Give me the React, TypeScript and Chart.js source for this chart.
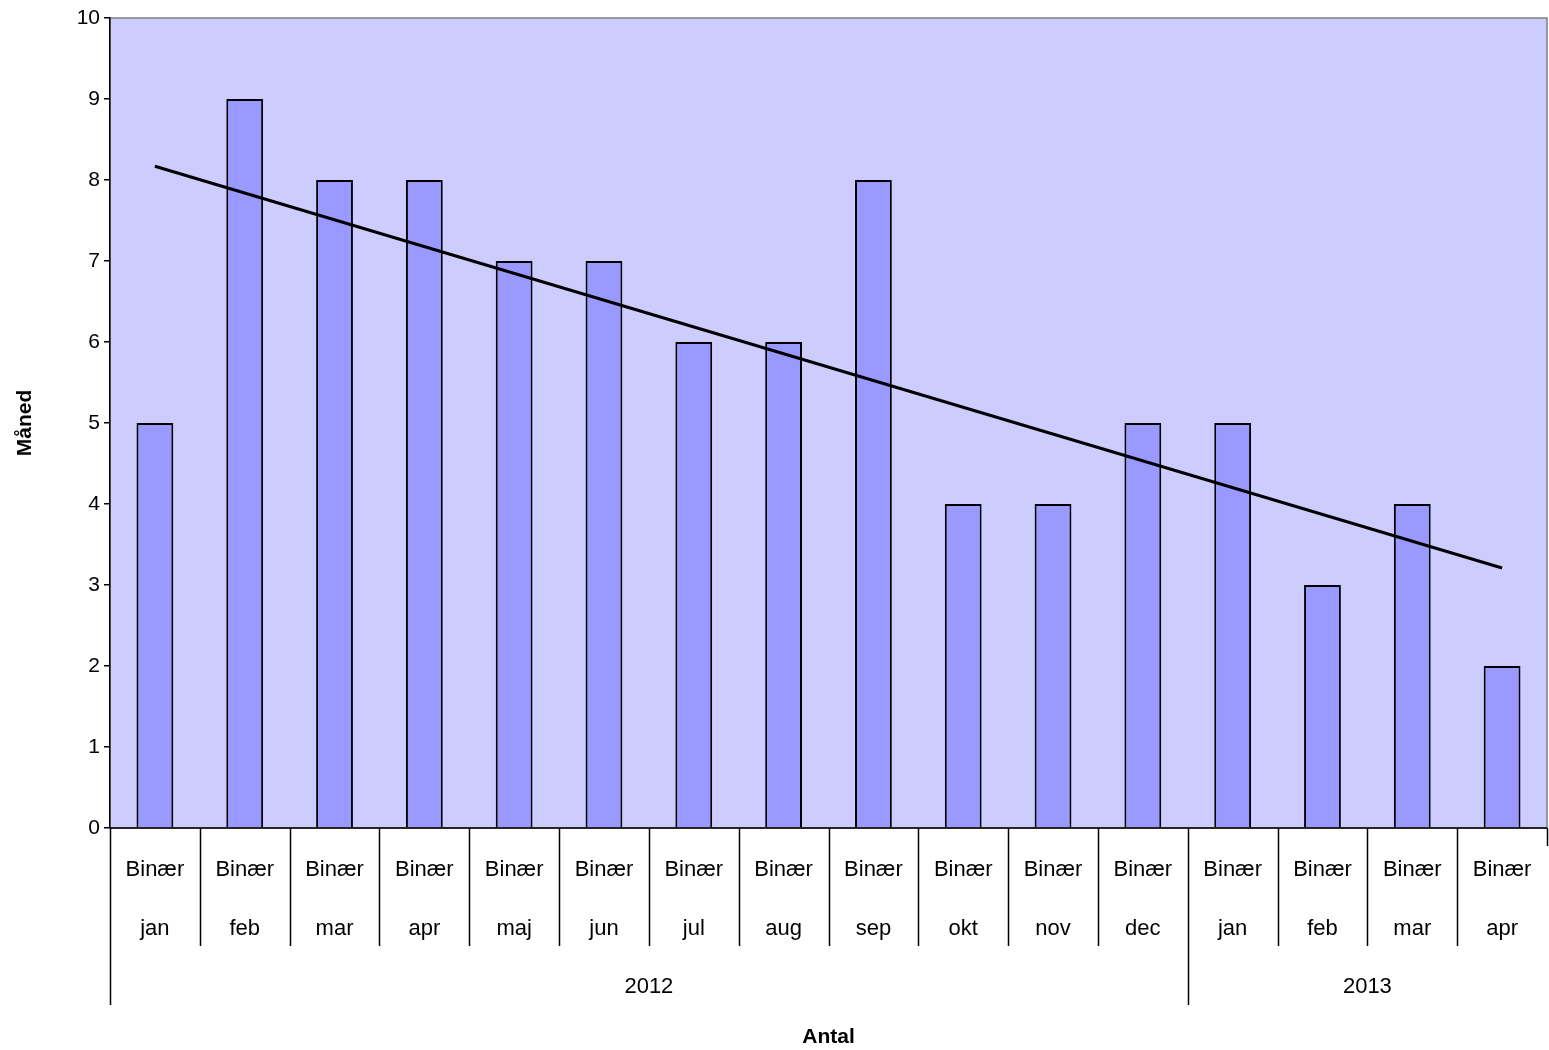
import React, { useEffect, useRef } from "react";
import { Chart, registerables } from "chart.js";
Chart.register(...registerables);

const months = ["jan","feb","mar","apr","maj","jun","jul","aug","sep","okt","nov","dec","jan","feb","mar","apr"];
const groupLabel = "Binær";
const years = [{ label: "2012", from: 0, to: 11 }, { label: "2013", from: 12, to: 15 }];
const values = [5, 9, 8, 8, 7, 7, 6, 6, 8, 4, 4, 5, 5, 3, 4, 2];
const trendStart = 8.17;
const trendEnd = 3.21;

export default function App() {
  const ref = useRef<HTMLCanvasElement>(null);
  useEffect(() => {
    const trend = values.map((_, i) => (i === 0 ? trendStart : i === values.length - 1 ? trendEnd : null));
    const font = "Liberation Sans, Arial, sans-serif";
    const plugin = {
      id: "custom",
      beforeDraw(c: any) {
        const { ctx, chartArea: a } = c;
        ctx.save();
        ctx.fillStyle = "#CCCCFF";
        ctx.fillRect(a.left, a.top, a.right - a.left, a.bottom - a.top);
        ctx.strokeStyle = "#808080";
        ctx.lineWidth = 1.5;
        ctx.strokeRect(a.left, a.top, a.right - a.left, a.bottom - a.top);
        ctx.restore();
      },
      afterDraw(c: any) {
        const { ctx, chartArea: a } = c;
        const xs = c.scales.x;
        const n = months.length;
        const b = (k: number) => (k <= 0 ? a.left : k >= n ? a.right : (xs.getPixelForValue(k - 1) + xs.getPixelForValue(k)) / 2);
        ctx.save();
        ctx.strokeStyle = "#000";
        ctx.lineWidth = 1.5;
        ctx.beginPath();
        ctx.moveTo(a.left, a.bottom); ctx.lineTo(a.right, a.bottom);
        for (let k = 0; k <= n; k++) {
          const x = Math.round(b(k)) + 0.5;
          const isYear = k === 0 || years.some(y => y.from === k);
          ctx.moveTo(x, a.bottom);
          ctx.lineTo(x, isYear ? 1005 : k === n ? 846 : 946);
        }
        ctx.stroke();
        ctx.fillStyle = "#000";
        ctx.font = `22px ${font}`;
        ctx.textAlign = "center";
        ctx.textBaseline = "middle";
        for (let i = 0; i < n; i++) {
          const x = xs.getPixelForValue(i);
          ctx.fillText(groupLabel, x, 870);
          ctx.fillText(months[i], x, 929);
        }
        for (const y of years) {
          ctx.fillText(y.label, (b(y.from) + b(y.to + 1)) / 2, 987);
        }
        ctx.font = `bold 21px ${font}`;
        ctx.fillText("Antal", (a.left + a.right) / 2, 1037);
        ctx.translate(25, (a.top + a.bottom) / 2);
        ctx.rotate(-Math.PI / 2);
        ctx.fillText("Måned", 0, 0);
        ctx.restore();
      },
    };
    const chart = new Chart(ref.current!, {
      type: "bar",
      data: {
        labels: months,
        datasets: [
          { type: "line", data: trend, borderColor: "#000", borderWidth: 3, pointRadius: 0, spanGaps: true, order: 0 } as any,
          { data: values, backgroundColor: "#9999FF", borderColor: "#000", borderWidth: 2, categoryPercentage: 1, barPercentage: 0.41, order: 1 },
        ],
      },
      options: {
        animation: false,
        responsive: false,
        layout: { padding: { top: 18, right: 2, left: 0, bottom: 0 } },
        plugins: { legend: { display: false }, tooltip: { enabled: false } },
        scales: {
          x: { ticks: { display: false }, grid: { display: false }, border: { display: false },
            afterFit: (s: any) => { s.height = 222; } },
          y: { min: 0, max: 10, ticks: { stepSize: 1, color: "#000", font: { size: 21, family: font }, padding: 4 },
            grid: { drawOnChartArea: false, drawTicks: true, tickLength: 6, color: "#000", lineWidth: 1.5 },
            border: { color: "#000", width: 1.5 },
            afterFit: (s: any) => { s.width = 110; } },
        },
      },
      plugins: [plugin],
    });
    return () => chart.destroy();
  }, []);
  return (
    <div style={{ position: "fixed", left: 0, top: 0 }}>
      <canvas ref={ref} width={1549} height={1050} style={{ width: 1549, height: 1050 }} />
    </div>
  );
}
